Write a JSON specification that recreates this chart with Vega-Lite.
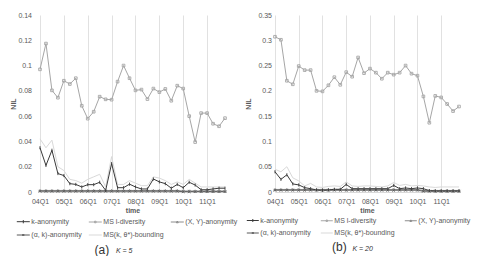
{
  "$schema": "https://vega.github.io/schema/vega-lite/v6.json",
  "padding": {"left": 9, "top": 11, "right": 2, "bottom": 0},
  "config": {
    "font": "Liberation Sans",
    "view": {"stroke": null},
    "axis": {"labelFontSize": 7, "labelColor": "#595959", "titleFontSize": 7, "titleFontWeight": "bold", "titleColor": "#595959", "ticks": false},
    "legend": {"labelFontSize": 7, "labelColor": "#595959"}
  },
  "datasets": {
    "k5": [
      {"t": "04Q1", "k-anonymity": 0.035, "MS l-diversity": 0.097, "(X, Y)-anonymity": 0.0012, "(α, k)-anonymity": 0.0006, "MS(k, θ*)-bounding": 0.042},
      {"t": "04Q2", "k-anonymity": 0.021, "MS l-diversity": 0.1174, "(X, Y)-anonymity": 0.0012, "(α, k)-anonymity": 0.0006, "MS(k, θ*)-bounding": 0.035},
      {"t": "04Q3", "k-anonymity": 0.033, "MS l-diversity": 0.0804, "(X, Y)-anonymity": 0.0012, "(α, k)-anonymity": 0.0006, "MS(k, θ*)-bounding": 0.041},
      {"t": "04Q4", "k-anonymity": 0.0146, "MS l-diversity": 0.0746, "(X, Y)-anonymity": 0.0012, "(α, k)-anonymity": 0.0006, "MS(k, θ*)-bounding": 0.020},
      {"t": "05Q1", "k-anonymity": 0.013, "MS l-diversity": 0.088, "(X, Y)-anonymity": 0.0012, "(α, k)-anonymity": 0.0006, "MS(k, θ*)-bounding": 0.017},
      {"t": "05Q2", "k-anonymity": 0.0066, "MS l-diversity": 0.0854, "(X, Y)-anonymity": 0.0012, "(α, k)-anonymity": 0.0006, "MS(k, θ*)-bounding": 0.010},
      {"t": "05Q3", "k-anonymity": 0.006, "MS l-diversity": 0.090, "(X, Y)-anonymity": 0.0012, "(α, k)-anonymity": 0.0006, "MS(k, θ*)-bounding": 0.009},
      {"t": "05Q4", "k-anonymity": 0.004, "MS l-diversity": 0.0682, "(X, Y)-anonymity": 0.0012, "(α, k)-anonymity": 0.0006, "MS(k, θ*)-bounding": 0.007},
      {"t": "06Q1", "k-anonymity": 0.0058, "MS l-diversity": 0.058, "(X, Y)-anonymity": 0.0012, "(α, k)-anonymity": 0.0006, "MS(k, θ*)-bounding": 0.010},
      {"t": "06Q2", "k-anonymity": 0.0058, "MS l-diversity": 0.0635, "(X, Y)-anonymity": 0.0012, "(α, k)-anonymity": 0.0006, "MS(k, θ*)-bounding": 0.012},
      {"t": "06Q3", "k-anonymity": 0.0077, "MS l-diversity": 0.0754, "(X, Y)-anonymity": 0.0012, "(α, k)-anonymity": 0.0006, "MS(k, θ*)-bounding": 0.014},
      {"t": "06Q4", "k-anonymity": 0.0013, "MS l-diversity": 0.0733, "(X, Y)-anonymity": 0.0012, "(α, k)-anonymity": 0.0006, "MS(k, θ*)-bounding": 0.004},
      {"t": "07Q1", "k-anonymity": 0.0225, "MS l-diversity": 0.073, "(X, Y)-anonymity": 0.0012, "(α, k)-anonymity": 0.0006, "MS(k, θ*)-bounding": 0.028},
      {"t": "07Q2", "k-anonymity": 0.0034, "MS l-diversity": 0.0873, "(X, Y)-anonymity": 0.0012, "(α, k)-anonymity": 0.0006, "MS(k, θ*)-bounding": 0.006},
      {"t": "07Q3", "k-anonymity": 0.0034, "MS l-diversity": 0.100, "(X, Y)-anonymity": 0.0012, "(α, k)-anonymity": 0.0006, "MS(k, θ*)-bounding": 0.006},
      {"t": "07Q4", "k-anonymity": 0.0062, "MS l-diversity": 0.090, "(X, Y)-anonymity": 0.0012, "(α, k)-anonymity": 0.0006, "MS(k, θ*)-bounding": 0.009},
      {"t": "08Q1", "k-anonymity": 0.004, "MS l-diversity": 0.0804, "(X, Y)-anonymity": 0.0012, "(α, k)-anonymity": 0.0006, "MS(k, θ*)-bounding": 0.007},
      {"t": "08Q2", "k-anonymity": 0.0024, "MS l-diversity": 0.081, "(X, Y)-anonymity": 0.0012, "(α, k)-anonymity": 0.0006, "MS(k, θ*)-bounding": 0.005},
      {"t": "08Q3", "k-anonymity": 0.0024, "MS l-diversity": 0.0735, "(X, Y)-anonymity": 0.0012, "(α, k)-anonymity": 0.0006, "MS(k, θ*)-bounding": 0.005},
      {"t": "08Q4", "k-anonymity": 0.0103, "MS l-diversity": 0.0818, "(X, Y)-anonymity": 0.0012, "(α, k)-anonymity": 0.0006, "MS(k, θ*)-bounding": 0.012},
      {"t": "09Q1", "k-anonymity": 0.008, "MS l-diversity": 0.079, "(X, Y)-anonymity": 0.0012, "(α, k)-anonymity": 0.0006, "MS(k, θ*)-bounding": 0.011},
      {"t": "09Q2", "k-anonymity": 0.0066, "MS l-diversity": 0.0815, "(X, Y)-anonymity": 0.0012, "(α, k)-anonymity": 0.0006, "MS(k, θ*)-bounding": 0.009},
      {"t": "09Q3", "k-anonymity": 0.003, "MS l-diversity": 0.0722, "(X, Y)-anonymity": 0.0012, "(α, k)-anonymity": 0.0006, "MS(k, θ*)-bounding": 0.006},
      {"t": "09Q4", "k-anonymity": 0.006, "MS l-diversity": 0.0841, "(X, Y)-anonymity": 0.0012, "(α, k)-anonymity": 0.0006, "MS(k, θ*)-bounding": 0.008},
      {"t": "10Q1", "k-anonymity": 0.0034, "MS l-diversity": 0.0818, "(X, Y)-anonymity": 0.0008, "(α, k)-anonymity": 0.0003, "MS(k, θ*)-bounding": 0.006},
      {"t": "10Q2", "k-anonymity": 0.0077, "MS l-diversity": 0.060, "(X, Y)-anonymity": 0.0008, "(α, k)-anonymity": 0.0003, "MS(k, θ*)-bounding": 0.010},
      {"t": "10Q3", "k-anonymity": 0.0055, "MS l-diversity": 0.0395, "(X, Y)-anonymity": 0.0008, "(α, k)-anonymity": 0.0003, "MS(k, θ*)-bounding": 0.007},
      {"t": "10Q4", "k-anonymity": 0.0018, "MS l-diversity": 0.0624, "(X, Y)-anonymity": 0.0008, "(α, k)-anonymity": 0.0003, "MS(k, θ*)-bounding": 0.004},
      {"t": "11Q1", "k-anonymity": 0.0018, "MS l-diversity": 0.0624, "(X, Y)-anonymity": 0.0008, "(α, k)-anonymity": 0.0003, "MS(k, θ*)-bounding": 0.004},
      {"t": "11Q2", "k-anonymity": 0.0024, "MS l-diversity": 0.054, "(X, Y)-anonymity": 0.0008, "(α, k)-anonymity": 0.0003, "MS(k, θ*)-bounding": 0.004},
      {"t": "11Q3", "k-anonymity": 0.003, "MS l-diversity": 0.052, "(X, Y)-anonymity": 0.0008, "(α, k)-anonymity": 0.0003, "MS(k, θ*)-bounding": 0.004},
      {"t": "11Q4", "k-anonymity": 0.003, "MS l-diversity": 0.0584, "(X, Y)-anonymity": 0.0008, "(α, k)-anonymity": 0.0003, "MS(k, θ*)-bounding": 0.004}
    ],
    "k20": [
      {"t": "04Q1", "k-anonymity": 0.040, "MS l-diversity": 0.307, "(X, Y)-anonymity": 0.005, "(α, k)-anonymity": 0.0035, "MS(k, θ*)-bounding": 0.045},
      {"t": "04Q2", "k-anonymity": 0.025, "MS l-diversity": 0.301, "(X, Y)-anonymity": 0.005, "(α, k)-anonymity": 0.0035, "MS(k, θ*)-bounding": 0.040},
      {"t": "04Q3", "k-anonymity": 0.034, "MS l-diversity": 0.220, "(X, Y)-anonymity": 0.005, "(α, k)-anonymity": 0.0035, "MS(k, θ*)-bounding": 0.050},
      {"t": "04Q4", "k-anonymity": 0.016, "MS l-diversity": 0.213, "(X, Y)-anonymity": 0.005, "(α, k)-anonymity": 0.0035, "MS(k, θ*)-bounding": 0.028},
      {"t": "05Q1", "k-anonymity": 0.014, "MS l-diversity": 0.249, "(X, Y)-anonymity": 0.005, "(α, k)-anonymity": 0.0035, "MS(k, θ*)-bounding": 0.022},
      {"t": "05Q2", "k-anonymity": 0.0086, "MS l-diversity": 0.241, "(X, Y)-anonymity": 0.005, "(α, k)-anonymity": 0.0035, "MS(k, θ*)-bounding": 0.012},
      {"t": "05Q3", "k-anonymity": 0.0066, "MS l-diversity": 0.241, "(X, Y)-anonymity": 0.005, "(α, k)-anonymity": 0.0035, "MS(k, θ*)-bounding": 0.017},
      {"t": "05Q4", "k-anonymity": 0.004, "MS l-diversity": 0.200, "(X, Y)-anonymity": 0.005, "(α, k)-anonymity": 0.0035, "MS(k, θ*)-bounding": 0.010},
      {"t": "06Q1", "k-anonymity": 0.0033, "MS l-diversity": 0.199, "(X, Y)-anonymity": 0.005, "(α, k)-anonymity": 0.0035, "MS(k, θ*)-bounding": 0.009},
      {"t": "06Q2", "k-anonymity": 0.004, "MS l-diversity": 0.211, "(X, Y)-anonymity": 0.005, "(α, k)-anonymity": 0.0035, "MS(k, θ*)-bounding": 0.011},
      {"t": "06Q3", "k-anonymity": 0.0053, "MS l-diversity": 0.227, "(X, Y)-anonymity": 0.005, "(α, k)-anonymity": 0.0035, "MS(k, θ*)-bounding": 0.012},
      {"t": "06Q4", "k-anonymity": 0.0053, "MS l-diversity": 0.212, "(X, Y)-anonymity": 0.005, "(α, k)-anonymity": 0.0035, "MS(k, θ*)-bounding": 0.011},
      {"t": "07Q1", "k-anonymity": 0.015, "MS l-diversity": 0.237, "(X, Y)-anonymity": 0.005, "(α, k)-anonymity": 0.0035, "MS(k, θ*)-bounding": 0.020},
      {"t": "07Q2", "k-anonymity": 0.0066, "MS l-diversity": 0.228, "(X, Y)-anonymity": 0.005, "(α, k)-anonymity": 0.0035, "MS(k, θ*)-bounding": 0.012},
      {"t": "07Q3", "k-anonymity": 0.0066, "MS l-diversity": 0.266, "(X, Y)-anonymity": 0.005, "(α, k)-anonymity": 0.0035, "MS(k, θ*)-bounding": 0.011},
      {"t": "07Q4", "k-anonymity": 0.0066, "MS l-diversity": 0.235, "(X, Y)-anonymity": 0.005, "(α, k)-anonymity": 0.0035, "MS(k, θ*)-bounding": 0.012},
      {"t": "08Q1", "k-anonymity": 0.0066, "MS l-diversity": 0.244, "(X, Y)-anonymity": 0.005, "(α, k)-anonymity": 0.0035, "MS(k, θ*)-bounding": 0.012},
      {"t": "08Q2", "k-anonymity": 0.0066, "MS l-diversity": 0.236, "(X, Y)-anonymity": 0.005, "(α, k)-anonymity": 0.0035, "MS(k, θ*)-bounding": 0.011},
      {"t": "08Q3", "k-anonymity": 0.0066, "MS l-diversity": 0.224, "(X, Y)-anonymity": 0.005, "(α, k)-anonymity": 0.0035, "MS(k, θ*)-bounding": 0.010},
      {"t": "08Q4", "k-anonymity": 0.0066, "MS l-diversity": 0.236, "(X, Y)-anonymity": 0.005, "(α, k)-anonymity": 0.0035, "MS(k, θ*)-bounding": 0.012},
      {"t": "09Q1", "k-anonymity": 0.013, "MS l-diversity": 0.232, "(X, Y)-anonymity": 0.005, "(α, k)-anonymity": 0.0035, "MS(k, θ*)-bounding": 0.019},
      {"t": "09Q2", "k-anonymity": 0.0066, "MS l-diversity": 0.236, "(X, Y)-anonymity": 0.005, "(α, k)-anonymity": 0.0035, "MS(k, θ*)-bounding": 0.013},
      {"t": "09Q3", "k-anonymity": 0.008, "MS l-diversity": 0.250, "(X, Y)-anonymity": 0.005, "(α, k)-anonymity": 0.0035, "MS(k, θ*)-bounding": 0.015},
      {"t": "09Q4", "k-anonymity": 0.0066, "MS l-diversity": 0.234, "(X, Y)-anonymity": 0.005, "(α, k)-anonymity": 0.0035, "MS(k, θ*)-bounding": 0.012},
      {"t": "10Q1", "k-anonymity": 0.008, "MS l-diversity": 0.230, "(X, Y)-anonymity": 0.005, "(α, k)-anonymity": 0.0035, "MS(k, θ*)-bounding": 0.013},
      {"t": "10Q2", "k-anonymity": 0.0066, "MS l-diversity": 0.189, "(X, Y)-anonymity": 0.003, "(α, k)-anonymity": 0.0015, "MS(k, θ*)-bounding": 0.012},
      {"t": "10Q3", "k-anonymity": 0.0027, "MS l-diversity": 0.137, "(X, Y)-anonymity": 0.003, "(α, k)-anonymity": 0.0015, "MS(k, θ*)-bounding": 0.010},
      {"t": "10Q4", "k-anonymity": 0.002, "MS l-diversity": 0.190, "(X, Y)-anonymity": 0.003, "(α, k)-anonymity": 0.0015, "MS(k, θ*)-bounding": 0.009},
      {"t": "11Q1", "k-anonymity": 0.002, "MS l-diversity": 0.187, "(X, Y)-anonymity": 0.003, "(α, k)-anonymity": 0.0015, "MS(k, θ*)-bounding": 0.010},
      {"t": "11Q2", "k-anonymity": 0.002, "MS l-diversity": 0.174, "(X, Y)-anonymity": 0.003, "(α, k)-anonymity": 0.0015, "MS(k, θ*)-bounding": 0.010},
      {"t": "11Q3", "k-anonymity": 0.002, "MS l-diversity": 0.160, "(X, Y)-anonymity": 0.003, "(α, k)-anonymity": 0.0015, "MS(k, θ*)-bounding": 0.010},
      {"t": "11Q4", "k-anonymity": 0.002, "MS l-diversity": 0.169, "(X, Y)-anonymity": 0.003, "(α, k)-anonymity": 0.0015, "MS(k, θ*)-bounding": 0.010}
    ]
  },
  "spacing": 5,
  "resolve": {"scale": {"color": "independent"}, "legend": {"color": "independent"}},
  "hconcat": [
    {
      "width": 185,
      "height": 177,
      "data": {"name": "k5"},
      "transform": [{"fold": ["MS(k, θ*)-bounding", "MS l-diversity", "(X, Y)-anonymity", "(α, k)-anonymity", "k-anonymity"], "as": ["series", "NIL"]}],
      "title": {"text": "(a)\u00a0\u00a0\u00a0\u00a0\u00a0\u00a0\u00a0\u200b", "subtitle": "\u200b\u00a0\u00a0\u00a0\u00a0\u00a0\u00a0\u00a0\u00a0\u00a0\u00a0\u00a0K = 5", "orient": "bottom", "anchor": "middle", "frame": "group", "dx": -19, "offset": 6, "fontSize": 12, "fontWeight": "normal", "color": "#333333", "subtitleFontSize": 7, "subtitleFontStyle": "italic", "subtitleColor": "#333333", "subtitlePadding": -9.5},
      "encoding": {
        "x": {"field": "t", "type": "ordinal", "scale": {"type": "point", "padding": 0},
              "axis": {"title": "time", "labelAngle": 0, "values": ["04Q1", "05Q1", "06Q1", "07Q1", "08Q1", "09Q1", "10Q1", "11Q1"], "grid": true, "gridColor": "#d9d9d9", "gridWidth": 0.8, "domainColor": "#d9d9d9", "labelPadding": 5, "titlePadding": 2}},
        "y": {"field": "NIL", "type": "quantitative", "scale": {"domain": [0, 0.14], "nice": false},
              "axis": {"title": "NIL", "values": [0, 0.02, 0.04, 0.06, 0.08, 0.1, 0.12, 0.14], "format": "~g", "grid": false, "domain": false, "labelPadding": 8.5, "titlePadding": 1}},
        "color": {"field": "series", "type": "nominal",
          "scale": {"domain": ["k-anonymity", "MS l-diversity", "(X, Y)-anonymity", "(α, k)-anonymity", "MS(k, θ*)-bounding"], "range": ["#3a3a3a", "#a6a6a6", "#8c8c8c", "#595959", "#d9d9d9"]},
          "legend": null}
      },
      "layer": [
        {
          "mark": {"type": "line", "strokeWidth": 1},
          "encoding": {
            "color": {"field": "series", "type": "nominal",
              "legend": {"orient": "none", "direction": "horizontal", "legendX": -23.7, "legendY": 199.5, "columns": 3, "title": null, "padding": 0, "columnPadding": 4, "rowPadding": 2.5, "gridAlign": "each", "symbolSize": 169, "symbolStrokeWidth": 1, "labelOffset": 1,
                "encode": {"symbols": {"update": {"shape": {"signal": "datum.value === 'k-anonymity' ? 'M-1,0H1M0,-0.25V0.25' : datum.value === 'MS l-diversity' ? 'M-1,0H1M-0.12,-0.12H0.12V0.12H-0.12Z' : datum.value === '(X, Y)-anonymity' ? 'M-1,0H1M0,-0.15L0.15,0.12H-0.15Z' : datum.value === '(α, k)-anonymity' ? 'M-1,0H1M-0.15,-0.15L0.15,0.15M-0.15,0.15L0.15,-0.15' : 'M-1,0H1'"}}}}}
            }
          }
        },
        {"transform": [{"filter": {"field": "series", "equal": "MS l-diversity"}}], "mark": {"type": "point", "shape": "square", "filled": false, "strokeWidth": 0.9, "size": 7, "opacity": 1}},
        {"transform": [{"filter": {"field": "series", "equal": "(X, Y)-anonymity"}}], "mark": {"type": "point", "shape": "triangle-up", "filled": false, "strokeWidth": 0.9, "size": 7, "opacity": 1}},
        {"transform": [{"filter": {"field": "series", "equal": "(α, k)-anonymity"}}], "mark": {"type": "point", "shape": "M-1,-1L1,1M-1,1L1,-1", "filled": false, "strokeWidth": 0.9, "size": 7, "opacity": 1}},
        {"transform": [{"filter": {"field": "series", "equal": "k-anonymity"}}], "mark": {"type": "point", "shape": "M0,-1V1", "filled": false, "strokeWidth": 0.9, "size": 10, "opacity": 1}}
      ]
    },
    {
      "width": 184,
      "height": 177,
      "data": {"name": "k20"},
      "transform": [{"fold": ["MS(k, θ*)-bounding", "MS l-diversity", "(X, Y)-anonymity", "(α, k)-anonymity", "k-anonymity"], "as": ["series", "NIL"]}],
      "title": {"text": "(b)\u00a0\u00a0\u00a0\u00a0\u00a0\u00a0\u00a0\u200b", "subtitle": "\u200b\u00a0\u00a0\u00a0\u00a0\u00a0\u00a0\u00a0\u00a0\u00a0\u00a0\u00a0\u00a0K = 20", "orient": "bottom", "anchor": "middle", "frame": "group", "dx": -16, "offset": 6, "fontSize": 12, "fontWeight": "normal", "color": "#333333", "subtitleFontSize": 7, "subtitleFontStyle": "italic", "subtitleColor": "#333333", "subtitlePadding": -9.5},
      "encoding": {
        "x": {"field": "t", "type": "ordinal", "scale": {"type": "point", "padding": 0},
              "axis": {"title": "time", "labelAngle": 0, "values": ["04Q1", "05Q1", "06Q1", "07Q1", "08Q1", "09Q1", "10Q1", "11Q1"], "grid": true, "gridColor": "#d9d9d9", "gridWidth": 0.8, "domainColor": "#d9d9d9", "labelPadding": 5, "titlePadding": 2}},
        "y": {"field": "NIL", "type": "quantitative", "scale": {"domain": [0, 0.35], "nice": false},
              "axis": {"title": "NIL", "values": [0, 0.05, 0.1, 0.15, 0.2, 0.25, 0.3, 0.35], "format": "~g", "grid": false, "domain": false, "labelPadding": 3.5, "titlePadding": 6.5}},
        "color": {"field": "series", "type": "nominal",
          "scale": {"domain": ["k-anonymity", "MS l-diversity", "(X, Y)-anonymity", "(α, k)-anonymity", "MS(k, θ*)-bounding"], "range": ["#3a3a3a", "#a6a6a6", "#8c8c8c", "#595959", "#d9d9d9"]},
          "legend": null}
      },
      "layer": [
        {
          "mark": {"type": "line", "strokeWidth": 1},
          "encoding": {
            "color": {"field": "series", "type": "nominal",
              "legend": {"orient": "none", "direction": "horizontal", "legendX": -28.7, "legendY": 199, "columns": 3, "title": null, "padding": 0, "columnPadding": 7, "rowPadding": 2.5, "gridAlign": "each", "symbolSize": 144, "symbolStrokeWidth": 1, "labelOffset": 1,
                "encode": {"symbols": {"update": {"shape": {"signal": "datum.value === 'k-anonymity' ? 'M-1,0H1M0,-0.25V0.25' : datum.value === 'MS l-diversity' ? 'M-1,0H1M-0.12,-0.12H0.12V0.12H-0.12Z' : datum.value === '(X, Y)-anonymity' ? 'M-1,0H1M0,-0.15L0.15,0.12H-0.15Z' : datum.value === '(α, k)-anonymity' ? 'M-1,0H1M-0.15,-0.15L0.15,0.15M-0.15,0.15L0.15,-0.15' : 'M-1,0H1'"}}}}}
            }
          }
        },
        {"transform": [{"filter": {"field": "series", "equal": "MS l-diversity"}}], "mark": {"type": "point", "shape": "square", "filled": false, "strokeWidth": 0.9, "size": 7, "opacity": 1}},
        {"transform": [{"filter": {"field": "series", "equal": "(X, Y)-anonymity"}}], "mark": {"type": "point", "shape": "triangle-up", "filled": false, "strokeWidth": 0.9, "size": 7, "opacity": 1}},
        {"transform": [{"filter": {"field": "series", "equal": "(α, k)-anonymity"}}], "mark": {"type": "point", "shape": "M-1,-1L1,1M-1,1L1,-1", "filled": false, "strokeWidth": 0.9, "size": 7, "opacity": 1}},
        {"transform": [{"filter": {"field": "series", "equal": "k-anonymity"}}], "mark": {"type": "point", "shape": "M0,-1V1", "filled": false, "strokeWidth": 0.9, "size": 10, "opacity": 1}}
      ]
    }
  ]
}
